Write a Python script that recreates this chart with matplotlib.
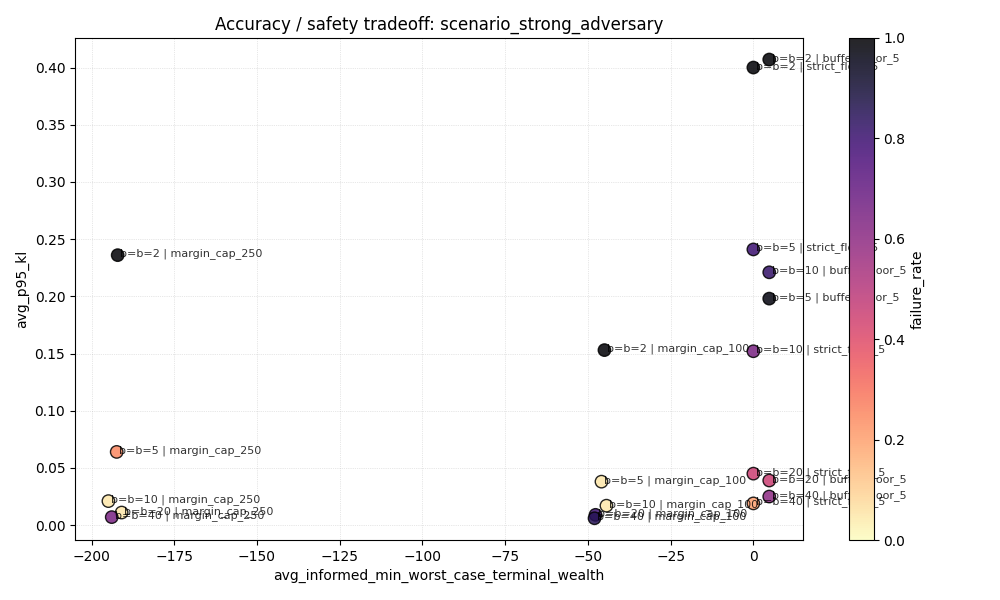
import matplotlib
matplotlib.use("Agg")
import matplotlib.pyplot as plt

labels = ["b=2 | buffer_floor_5","b=2 | strict_floor_5","b=2 | margin_cap_250","b=5 | strict_floor_5",
          "b=10 | buffer_floor_5","b=5 | buffer_floor_5","b=2 | margin_cap_100","b=10 | strict_floor_5",
          "b=5 | margin_cap_250","b=20 | strict_floor_5","b=20 | buffer_floor_5","b=5 | margin_cap_100",
          "b=10 | margin_cap_250","b=40 | buffer_floor_5","b=40 | strict_floor_5","b=10 | margin_cap_100",
          "b=20 | margin_cap_250","b=40 | margin_cap_250","b=20 | margin_cap_100","b=40 | margin_cap_100"]
x_vals = [4.8,0,-192.1,0,4.8,4.8,-45,0,-192.4,0,4.8,-45.9,-194.9,4.8,0,-44.4,-190.9,-193.9,-47.7,-48]
y_vals = [0.407,0.400,0.236,0.241,0.221,0.198,0.153,0.152,0.064,0.045,0.039,0.038,0.021,0.025,0.019,0.017,0.011,0.007,0.009,0.006]
failure = [1.0,1.0,1.0,0.8,0.82,0.97,1.0,0.65,0.25,0.45,0.45,0.05,0.05,0.6,0.2,0.05,0.05,0.65,0.8,0.85]

fig, ax = plt.subplots(figsize=(10,6), dpi=100)
sc = ax.scatter(x_vals, y_vals, c=failure, cmap="magma_r", vmin=0, vmax=1, s=80,
                edgecolors="black", linewidths=1, alpha=0.85, zorder=3)
for x, y, l in zip(x_vals, y_vals, labels):
    ax.annotate("b=" + l, (x, y), xytext=(2, 1), textcoords="offset points",
                fontsize=8, va="center", alpha=0.8, zorder=4)
cb = fig.colorbar(sc, ax=ax)
cb.set_label("failure_rate")
ax.set_xlim(-205, 15)
ax.set_ylim(-0.013, 0.426)
ax.set_xlabel("avg_informed_min_worst_case_terminal_wealth")
ax.set_ylabel("avg_p95_kl")
ax.set_title("Accuracy / safety tradeoff: scenario_strong_adversary")
ax.grid(True, linestyle=":", linewidth=0.5, alpha=0.6)
fig.subplots_adjust(left=0.075, right=0.985, top=0.937, bottom=0.1)
fig.savefig("out.png")
